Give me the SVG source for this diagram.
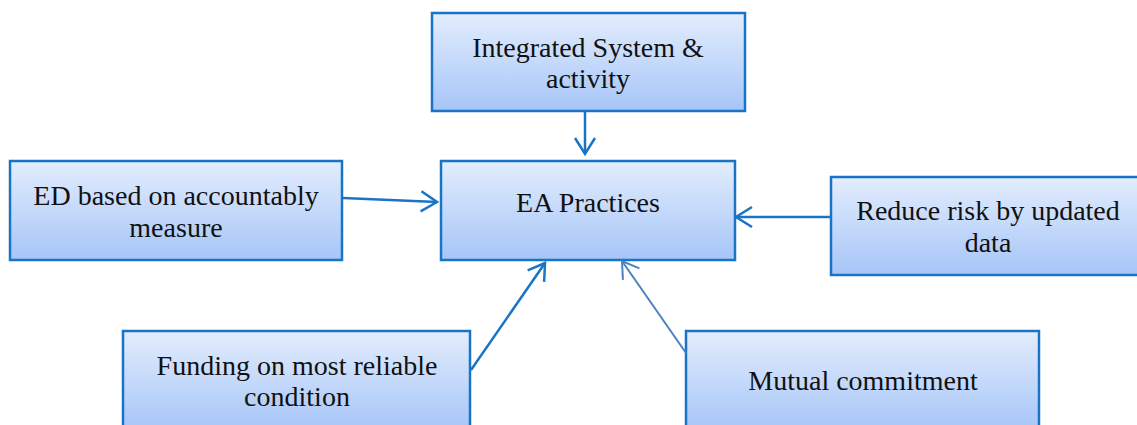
<svg xmlns="http://www.w3.org/2000/svg" width="1137" height="425" viewBox="0 0 1137 425">
<style>
.box{fill:url(#g);stroke:#1a74c6;stroke-width:2.5}
.t{font-family:"Liberation Serif","DejaVu Serif",serif;font-size:28px;fill:#111;text-anchor:middle}
.c{fill:none;stroke:#1a74c6;stroke-width:2.5}
.c2{fill:none;stroke:#4a82c0;stroke-width:2}
</style>
<defs>
<linearGradient id="g" x1="0" y1="0" x2="0" y2="1">
<stop offset="0" stop-color="#e3edfd"/>
<stop offset="1" stop-color="#a6c5f8"/>
</linearGradient>
<marker id="a" markerWidth="12" markerHeight="14" refX="10" refY="7" orient="auto" markerUnits="userSpaceOnUse" viewBox="0 0 12 14" overflow="visible">
<path d="M-6,-3 L10,7 L-6,17" fill="none" stroke="#1a74c6" stroke-width="2.5"/>
</marker>
<marker id="a2" markerWidth="12" markerHeight="14" refX="10" refY="7" orient="auto" markerUnits="userSpaceOnUse" viewBox="0 0 12 14" overflow="visible">
<path d="M-6,-3 L10,7 L-6,17" fill="none" stroke="#4a82c0" stroke-width="2"/>
</marker>
</defs>
<g id="n-integrated">
<rect class="box" x="432" y="13" width="313" height="98"/>
<text class="t" x="588" y="57">Integrated System &amp;</text>
<text class="t" x="588" y="88">activity</text>
</g>
<g id="n-ea">
<rect class="box" x="441" y="161" width="294" height="99"/>
<text class="t" x="588" y="212">EA Practices</text>
</g>
<g id="n-ed">
<rect class="box" x="10" y="161" width="332" height="99"/>
<text class="t" x="176" y="205">ED based on accountably</text>
<text class="t" x="176" y="237">measure</text>
</g>
<g id="n-reduce">
<rect class="box" x="831" y="177" width="314" height="98"/>
<text class="t" x="988" y="220">Reduce risk by updated</text>
<text class="t" x="988" y="252">data</text>
</g>
<g id="n-funding">
<rect class="box" x="123" y="331" width="347" height="100"/>
<text class="t" x="297" y="375">Funding on most reliable</text>
<text class="t" x="297" y="406">condition</text>
</g>
<g id="n-mutual">
<rect class="box" x="686" y="331" width="353" height="100"/>
<text class="t" x="863" y="390">Mutual commitment</text>
</g>
<g id="connectors">
<line class="c" x1="585" y1="111" x2="585" y2="154" marker-end="url(#a)"/>
<line class="c" x1="343" y1="198" x2="437" y2="202" marker-end="url(#a)"/>
<line class="c" x1="831" y1="217" x2="736" y2="217" marker-end="url(#a)"/>
<line class="c" x1="471" y1="370" x2="545" y2="263" marker-end="url(#a)"/>
<line class="c2" x1="686" y1="353" x2="622" y2="261" marker-end="url(#a2)"/>
</g>
</svg>
